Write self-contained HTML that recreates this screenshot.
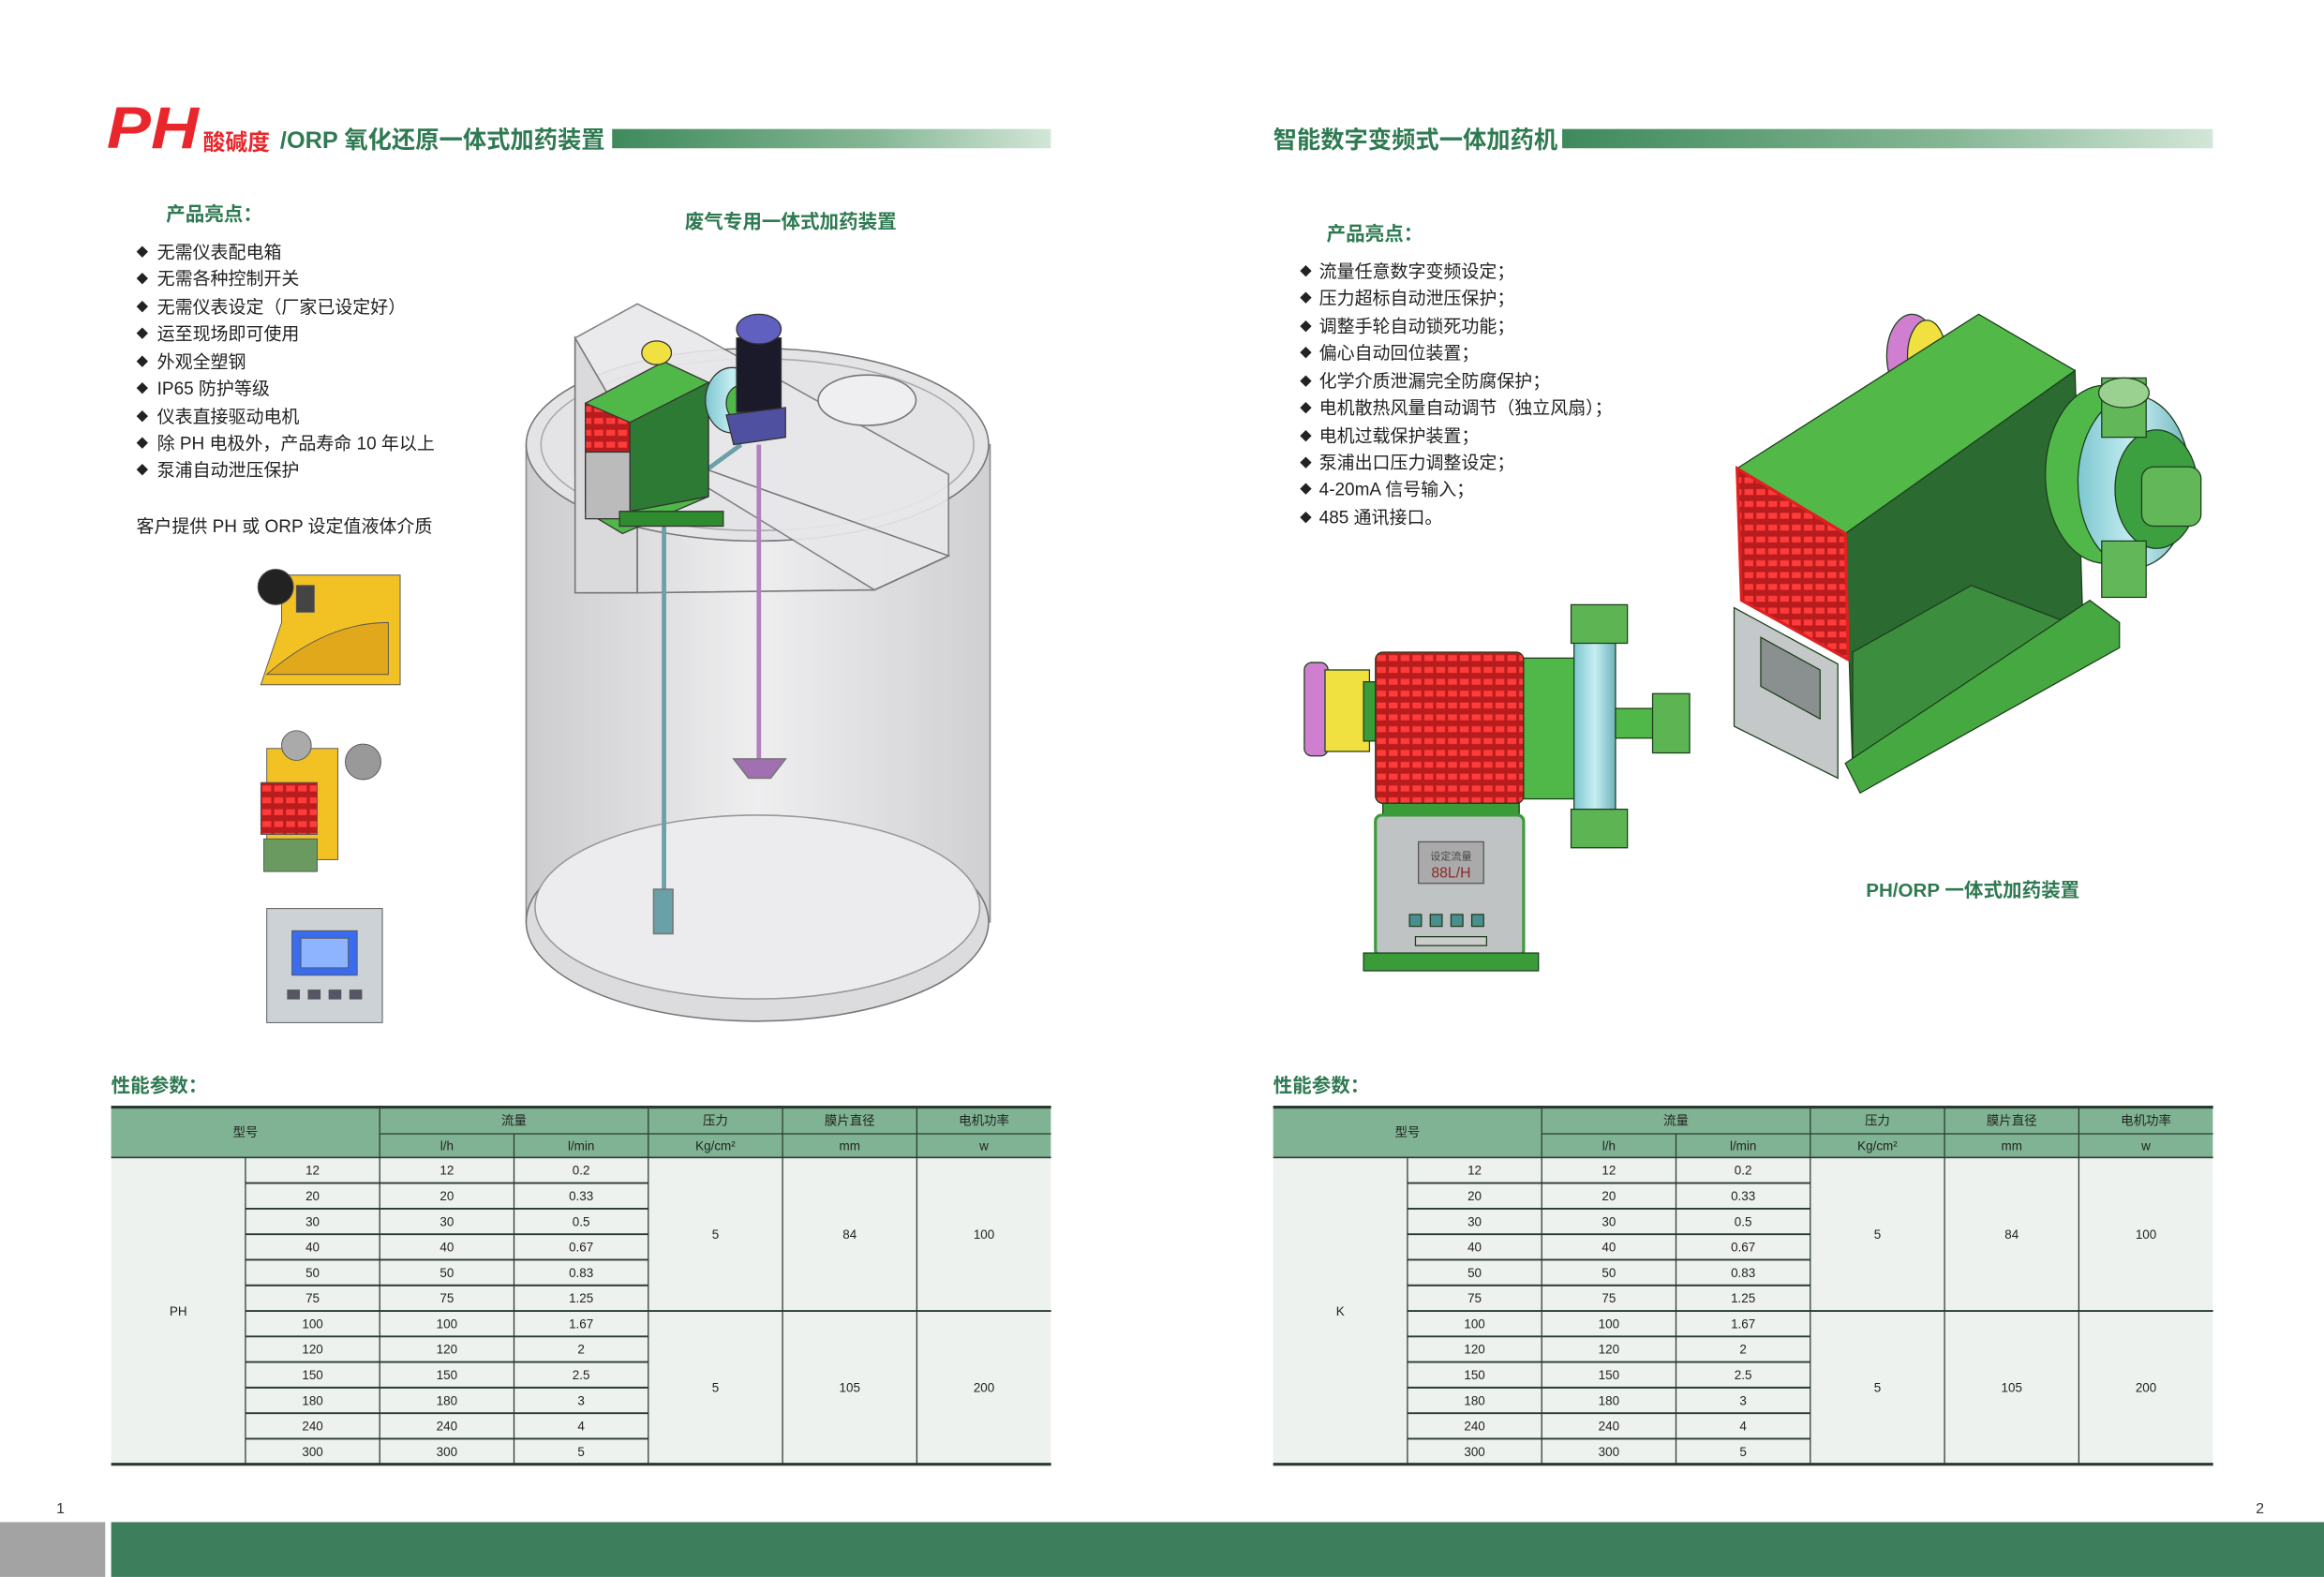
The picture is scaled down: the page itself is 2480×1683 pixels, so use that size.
<!DOCTYPE html>
<html><head><meta charset="utf-8"><style>
html,body{margin:0;padding:0;background:#fff;}
svg{display:block;}
text{font-family:"Liberation Sans","Noto Sans CJK SC",sans-serif;}
</style></head><body>
<svg width="2480" height="1683" viewBox="0 0 1568 1064" xmlns="http://www.w3.org/2000/svg">
<defs>
<linearGradient id="bar" x1="0" x2="1"><stop offset="0" stop-color="#3f8a5c"/><stop offset="0.6" stop-color="#86b795"/><stop offset="1" stop-color="#d3e6d8"/></linearGradient>
<linearGradient id="tank" x1="0" x2="1"><stop offset="0" stop-color="#c4c4c7"/><stop offset="0.5" stop-color="#ececee"/><stop offset="1" stop-color="#c8c8cb"/></linearGradient>
<linearGradient id="cyan" x1="0" x2="1"><stop offset="0" stop-color="#7ec7cf"/><stop offset="0.5" stop-color="#c5eef2"/><stop offset="1" stop-color="#6fb4bd"/></linearGradient>
<pattern id="grill" width="8" height="8" patternUnits="userSpaceOnUse"><rect width="8" height="8" fill="#b81c1c"/><rect x="1" y="2" width="6" height="4" fill="#ff3b3b"/></pattern>
</defs>
<rect width="1568" height="1064" fill="#fff"/>

<!-- Left header -->
<text x="72" y="100" font-size="40" font-weight="bold" font-style="italic" fill="#e8262b" textLength="62" lengthAdjust="spacingAndGlyphs">PH</text>
<text x="137" y="101" font-size="15" font-weight="bold" fill="#e8262b">酸碱度</text>
<text x="189" y="100" font-size="16" font-weight="bold" fill="#2f7a52" font-family="Liberation Serif,'Noto Serif CJK SC',serif">/ORP 氧化还原一体式加药装置</text>
<rect x="413" y="87" width="296" height="13" fill="url(#bar)"/>

<!-- Right header -->
<text x="859" y="100" font-size="16" font-weight="bold" fill="#2f7a52" font-family="Liberation Serif,'Noto Serif CJK SC',serif">智能数字变频式一体加药机</text>
<rect x="1054" y="87" width="439" height="13" fill="url(#bar)"/>

<!-- Left bullets -->
<text x="112" y="149" font-size="13" font-weight="bold" fill="#2f7a52">产品亮点：</text>
<g font-size="12" fill="#222">
<g font-size="8"><text x="92" y="173">◆</text><text x="92" y="191">◆</text><text x="92" y="210">◆</text><text x="92" y="228">◆</text><text x="92" y="247">◆</text><text x="92" y="265">◆</text><text x="92" y="284">◆</text><text x="92" y="302">◆</text><text x="92" y="320">◆</text></g>
<text x="106" y="174">无需仪表配电箱</text>
<text x="106" y="192">无需各种控制开关</text>
<text x="106" y="211">无需仪表设定（厂家已设定好）</text>
<text x="106" y="229">运至现场即可使用</text>
<text x="106" y="248">外观全塑钢</text>
<text x="106" y="266">IP65 防护等级</text>
<text x="106" y="285">仪表直接驱动电机</text>
<text x="106" y="303">除 PH 电极外，产品寿命 10 年以上</text>
<text x="106" y="321">泵浦自动泄压保护</text>
<text x="92" y="359">客户提供 PH 或 ORP 设定值液体介质</text>
</g>
<text x="462" y="154" font-size="13" font-weight="bold" fill="#2f7a52">废气专用一体式加药装置</text>

<!-- Right bullets -->
<text x="895" y="162" font-size="13" font-weight="bold" fill="#2f7a52">产品亮点：</text>
<g font-size="12" fill="#222">
<g font-size="8"><text x="877" y="186">◆</text><text x="877" y="204">◆</text><text x="877" y="223">◆</text><text x="877" y="241">◆</text><text x="877" y="260">◆</text><text x="877" y="278">◆</text><text x="877" y="297">◆</text><text x="877" y="315">◆</text><text x="877" y="333">◆</text><text x="877" y="352">◆</text></g>
<text x="890" y="187">流量任意数字变频设定；</text>
<text x="890" y="205">压力超标自动泄压保护；</text>
<text x="890" y="224">调整手轮自动锁死功能；</text>
<text x="890" y="242">偏心自动回位装置；</text>
<text x="890" y="261">化学介质泄漏完全防腐保护；</text>
<text x="890" y="279">电机散热风量自动调节（独立风扇）；</text>
<text x="890" y="298">电机过载保护装置；</text>
<text x="890" y="316">泵浦出口压力调整设定；</text>
<text x="890" y="334">4-20mA 信号输入；</text>
<text x="890" y="353">485 通讯接口。</text>
</g>
<text x="1259" y="605" font-size="13" font-weight="bold" fill="#2f7a52">PH/ORP 一体式加药装置</text>

<!-- Tank illustration -->
<g stroke="#777" stroke-width="1">
<rect x="355" y="300" width="313" height="322" fill="url(#tank)" opacity="0.85"/>
<ellipse cx="511" cy="622" rx="156" ry="67" fill="#dcdcde"/>
<ellipse cx="511" cy="612" rx="150" ry="62" fill="#ececee" stroke="#999"/>
<ellipse cx="511" cy="300" rx="156" ry="65" fill="#e4e4e6"/>
<ellipse cx="511" cy="300" rx="146" ry="58" fill="none" stroke="#aaa"/>
<polygon points="388,228 430,205 470,225 640,320 640,375 590,398 430,300 388,320" fill="#e8e8ea" opacity="0.9"/>
<polygon points="388,228 388,400 430,400 430,300" fill="#dadadc"/>
<polygon points="430,300 430,400 590,398 640,375" fill="none"/>
<ellipse cx="585" cy="270" rx="33" ry="17" fill="#efeff1"/>
<line x1="448" y1="335" x2="448" y2="620" stroke="#6aa0a8" stroke-width="3"/>
<line x1="448" y1="338" x2="500" y2="300" stroke="#6aa0a8" stroke-width="3"/>
<rect x="441" y="600" width="13" height="30" fill="#6aa0a8"/>
<line x1="512" y1="300" x2="512" y2="520" stroke="#b080c0" stroke-width="3"/>
<polygon points="495,512 530,512 520,525 505,525" fill="#a070b0"/>
</g>
<g stroke="#333" stroke-width="0.8">
<polygon points="395,272 448,244 478,258 478,335 420,360 395,345" fill="#4fb848"/>
<polygon points="395,272 425,285 425,345 395,330" fill="url(#grill)"/>
<polygon points="425,285 478,258 478,335 425,345" fill="#2d7a34"/>
<rect x="395" y="305" width="30" height="45" fill="#bbb"/>
<ellipse cx="443" cy="238" rx="10" ry="8" fill="#f0e040"/>
<ellipse cx="494" cy="270" rx="18" ry="22" fill="url(#cyan)"/>
<ellipse cx="500" cy="272" rx="10" ry="12" fill="#4fb848"/>
<rect x="497" y="228" width="30" height="50" fill="#1a1a2a"/>
<ellipse cx="512" cy="222" rx="15" ry="10" fill="#6060c0"/>
<polygon points="490,280 530,275 530,295 495,300" fill="#5050a0"/>
<rect x="418" y="345" width="70" height="10" fill="#2e8b2e"/>
</g>

<!-- Left small photos -->
<g stroke="#555" stroke-width="0.6">
<polygon points="190,388 270,388 270,462 176,462 190,420" fill="#f2c224"/>
<path d="M180,455 Q220,420 262,420 L262,455 Z" fill="#e0a81a"/>
<circle cx="186" cy="396" r="12" fill="#222"/>
<rect x="200" y="395" width="12" height="18" fill="#444"/>
<rect x="180" y="505" width="48" height="75" fill="#f2c224"/>
<rect x="176" y="528" width="38" height="35" fill="url(#grill)"/>
<rect x="178" y="566" width="36" height="22" fill="#6a9a60"/>
<circle cx="245" cy="514" r="12" fill="#999"/>
<circle cx="200" cy="503" r="10" fill="#aaa"/>
<rect x="180" y="613" width="78" height="77" fill="#cdd2d6"/>
<rect x="197" y="628" width="44" height="30" fill="#3a6cf0"/>
<rect x="203" y="633" width="32" height="20" fill="#8fb4ff"/>
<rect x="194" y="668" width="8" height="6" fill="#556"/><rect x="208" y="668" width="8" height="6" fill="#556"/><rect x="222" y="668" width="8" height="6" fill="#556"/><rect x="236" y="668" width="8" height="6" fill="#556"/>
</g>

<!-- Big pump right -->
<g stroke="#1d3d1d" stroke-width="0.8">
<ellipse cx="1290" cy="240" rx="17" ry="28" fill="#d07fd0"/>
<ellipse cx="1300" cy="240" rx="13" ry="24" fill="#f0e040"/>
<polygon points="1172,316 1335,212 1400,250 1245,360" fill="#52b848"/>
<polygon points="1245,360 1400,250 1405,410 1250,520" fill="#2b6a30"/>
<polygon points="1250,440 1330,395 1395,420 1395,440 1250,520" fill="#3c8e3e"/>
<polygon points="1172,316 1245,360 1247,445 1175,405" fill="url(#grill)" stroke="#e02020" stroke-width="2"/>
<polygon points="1170,410 1240,448 1240,525 1170,490" fill="#c4c8c8"/>
<polygon points="1188,430 1228,452 1228,485 1188,463" fill="#8a8f90"/>
<polygon points="1245,515 1410,405 1430,420 1430,437 1255,535" fill="#45a840"/>
<ellipse cx="1420" cy="320" rx="40" ry="60" fill="#4fb848"/>
<ellipse cx="1440" cy="325" rx="38" ry="58" fill="url(#cyan)"/>
<ellipse cx="1455" cy="330" rx="28" ry="40" fill="#3da040"/>
<rect x="1445" y="315" width="40" height="40" rx="8" fill="#62b858"/>
<rect x="1418" y="255" width="30" height="40" fill="#62b858"/>
<ellipse cx="1433" cy="265" rx="17" ry="10" fill="#9ad090"/>
<rect x="1418" y="365" width="30" height="38" fill="#62b858"/>
</g>

<!-- Small pump -->
<g stroke="#1d3d1d" stroke-width="0.8">
<rect x="880" y="447" width="16" height="63" rx="5" fill="#d07fd0"/>
<rect x="894" y="452" width="30" height="55" fill="#f0e040"/>
<rect x="920" y="460" width="10" height="40" fill="#3a9c38"/>
<rect x="928" y="440" width="100" height="102" rx="5" fill="url(#grill)"/>
<rect x="1028" y="444" width="40" height="95" fill="#4fb848"/>
<rect x="1062" y="425" width="28" height="133" fill="url(#cyan)"/>
<rect x="1060" y="408" width="38" height="26" fill="#5db453"/>
<rect x="1060" y="546" width="38" height="26" fill="#5db453"/>
<rect x="1090" y="478" width="30" height="20" fill="#4fb848"/>
<rect x="1115" y="468" width="25" height="40" fill="#5db453"/>
<rect x="933" y="542" width="92" height="10" fill="#3a9c38"/>
<rect x="928" y="550" width="100" height="95" rx="4" fill="#bfc3c3" stroke="#3a9c38" stroke-width="2"/>
<rect x="957" y="568" width="44" height="28" fill="#aaa" stroke="#555"/>
<text x="979" y="580" font-size="7" text-anchor="middle" fill="#444" stroke="none">设定流量</text>
<text x="979" y="592" font-size="10" text-anchor="middle" fill="#8a2a2a" stroke="none">88L/H</text>
<rect x="951" y="617" width="8" height="8" fill="#4a8f8f"/><rect x="965" y="617" width="8" height="8" fill="#4a8f8f"/><rect x="979" y="617" width="8" height="8" fill="#4a8f8f"/><rect x="993" y="617" width="8" height="8" fill="#4a8f8f"/>
<rect x="955" y="632" width="48" height="6" fill="#ccc"/>
<rect x="920" y="643" width="118" height="12" fill="#3a9c38"/>
</g>

<!-- Tables -->
<g id="tables" font-size="8.5" fill="#222" text-anchor="middle">
<text x="75" y="737" font-size="13" font-weight="bold" fill="#2f7a52" text-anchor="start">性能参数：</text>
<text x="859" y="737" font-size="13" font-weight="bold" fill="#2f7a52" text-anchor="start">性能参数：</text>
</g>
</svg>
<script>
(function(){
var ns="http://www.w3.org/2000/svg",g=document.getElementById("tables");
function el(t,a,txt){var e=document.createElementNS(ns,t);for(var k in a)e.setAttribute(k,a[k]);if(txt!=null)e.textContent=txt;g.appendChild(e);return e;}
var rows=[["12","12","0.2"],["20","20","0.33"],["30","30","0.5"],["40","40","0.67"],["50","50","0.83"],["75","75","1.25"],["100","100","1.67"],["120","120","2"],["150","150","2.5"],["180","180","3"],["240","240","4"],["300","300","5"]];
function table(x0,label){
 var cw=90.6,c=[];for(var i=0;i<=7;i++)c.push(x0+i*cw);
 var top=747,h1=765,h2=781,bot=988,rh=(bot-h2)/12;
 el("rect",{x:x0,y:top,width:634,height:h2-top,fill:"#80b393"});
 el("rect",{x:x0,y:h2,width:634,height:bot-h2,fill:"#edf2ee"});
 function line(a,b,cc,d,w){el("line",{x1:a,y1:b,x2:cc,y2:d,stroke:"#2a3a30","stroke-width":w||0.8});}
 line(c[2],h1,c[7],h1);
 [2,3,4,5,6].forEach(function(i){line(c[i],i==3?h1:top,c[i],h2);});
 line(x0,h2,c[7],h2,1);
 [1,2,3,4,5,6].forEach(function(i){line(c[i],h2,c[i],bot);});
 for(var r=1;r<12;r++){ if(r==6) line(c[1],h2+r*rh,c[7],h2+r*rh,1.2); else line(c[1],h2+r*rh,c[4],h2+r*rh,1.2);}
 line(x0,top,c[7],top,2);line(x0,bot,c[7],bot,2);
 el("text",{x:(c[0]+c[2])/2,y:767},"型号");
 el("text",{x:(c[2]+c[4])/2,y:759},"流量");
 el("text",{x:(c[4]+c[5])/2,y:759},"压力");
 el("text",{x:(c[5]+c[6])/2,y:759},"膜片直径");
 el("text",{x:(c[6]+c[7])/2,y:759},"电机功率");
 el("text",{x:(c[2]+c[3])/2,y:776},"l/h");
 el("text",{x:(c[3]+c[4])/2,y:776},"l/min");
 el("text",{x:(c[4]+c[5])/2,y:776},"Kg/cm²");
 el("text",{x:(c[5]+c[6])/2,y:776},"mm");
 el("text",{x:(c[6]+c[7])/2,y:776},"w");
 for(var r=0;r<12;r++){var y=h2+r*rh+rh/2+3;for(var k=0;k<3;k++)el("text",{x:(c[k+1]+c[k+2])/2,y:y},rows[r][k]);}
 var m1=h2+3*rh+3,m2=h2+9*rh+3;
 el("text",{x:(c[4]+c[5])/2,y:m1},"5");el("text",{x:(c[5]+c[6])/2,y:m1},"84");el("text",{x:(c[6]+c[7])/2,y:m1},"100");
 el("text",{x:(c[4]+c[5])/2,y:m2},"5");el("text",{x:(c[5]+c[6])/2,y:m2},"105");el("text",{x:(c[6]+c[7])/2,y:m2},"200");
 el("text",{x:(c[0]+c[1])/2,y:h2+6*rh+3},label);
}
table(75,"PH");table(859,"K");
})();
</script>
<div style="position:absolute;left:0;top:0;width:2480px;height:1683px;pointer-events:none;">
<svg width="2480" height="1683" viewBox="0 0 1568 1064" style="position:absolute;left:0;top:0">
<text x="38" y="1021" font-size="10" fill="#333">1</text>
<text x="1522" y="1021" font-size="10" fill="#333">2</text>
<rect x="0" y="1027" width="71" height="37" fill="#a3a3a3"/>
<rect x="75" y="1027" width="1493" height="37" fill="#3d7f5c"/>
</svg></div>
</body></html>
